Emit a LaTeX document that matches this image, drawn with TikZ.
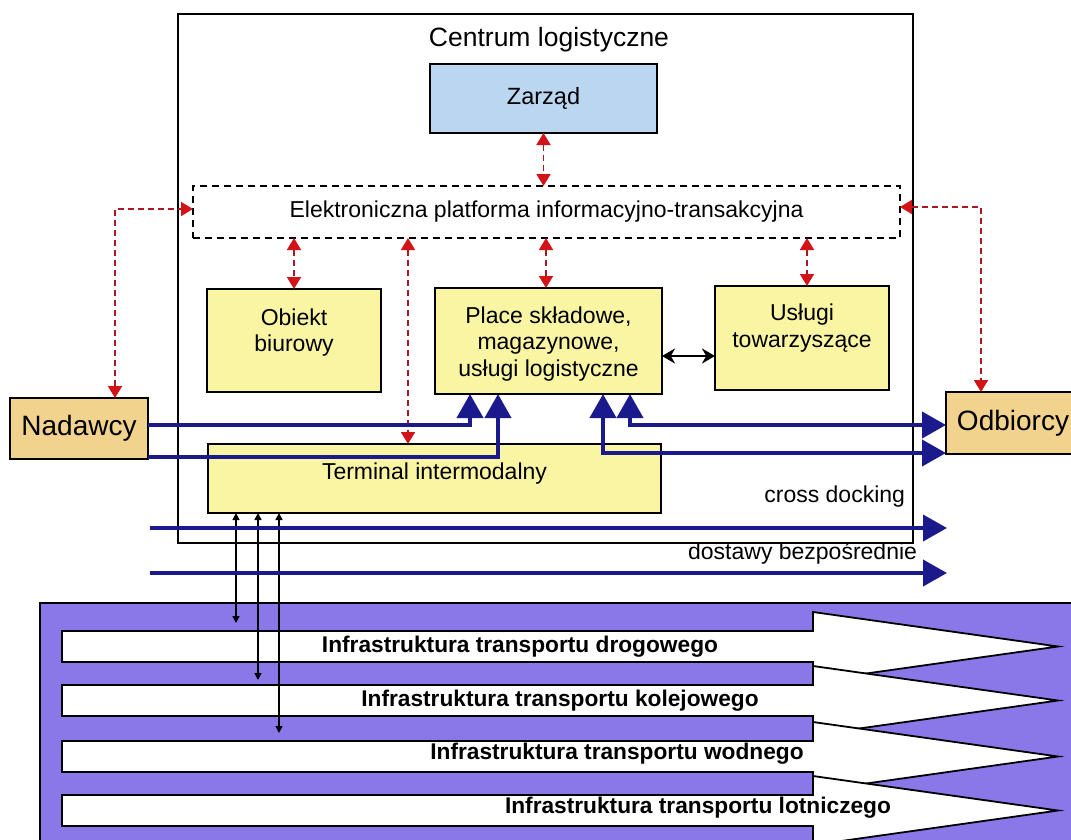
\documentclass[tikz,border=0pt]{standalone}
\usepackage{fontspec}
\setmainfont{Liberation Sans}
\usetikzlibrary{arrows.meta}

\definecolor{boxyellow}{RGB}{250,245,162}
\definecolor{boxblue}{RGB}{186,214,240}
\definecolor{boxtan}{RGB}{241,211,142}
\definecolor{panelpurple}{RGB}{138,120,232}
\definecolor{flownavy}{RGB}{26,26,140}
\definecolor{infored}{RGB}{170,25,35}
\definecolor{tipred}{RGB}{210,20,25}

\begin{document}
\begin{tikzpicture}[x=1pt,y=-1pt,
  basefont/.style={font=\fontsize{23}{26.5}\selectfont},
  every node/.style={basefont, inner sep=0pt, outer sep=0pt, align=center},
  unitbox/.style={draw=black, line width=1.4pt, fill=boxyellow},
  actorbox/.style={draw=black, line width=1.4pt, fill=boxtan, font=\fontsize{28}{30}\selectfont},
  frameline/.style={draw=black, line width=1.3pt},
  platformbox/.style={draw=black, line width=1.4pt, dash pattern=on 7pt off 5pt},
  redtip/.tip={Triangle[width=14pt,length=12pt,color=tipred]},
  infolink/.style={draw=infored, line width=1.9pt, dash pattern=on 6pt off 4pt, redtip-redtip},
  bluetip/.tip={Triangle[width=26pt,length=24pt]},
  flow/.style={draw=flownavy, line width=4pt, -bluetip},
  twoflow/.style={draw=flownavy, line width=4pt, bluetip-bluetip},
  blacktip/.tip={Stealth[width=15pt,length=13pt]},
  pairarrow/.style={draw=black, line width=2.2pt, blacktip-blacktip},
  droptip/.tip={Triangle[width=7pt,length=7pt]},
  droparrow/.style={draw=black, line width=1.5pt, droptip-droptip},
  blockarrow/.style={draw=black, line width=1.8pt, fill=white, line join=miter},
  infratext/.style={font=\fontsize{22.7}{26.5}\selectfont\bfseries},
  flowtext/.style={anchor=east}
]
\useasboundingbox (0,0) rectangle (1071,839);
\clip (0,0) rectangle (1071,839);
\fill[white] (0,0) rectangle (1071,839);

% transport infrastructure panel
\filldraw[fill=panelpurple, draw=black, line width=1.5pt] (40,603) rectangle (1100,860);
\foreach \t in {631,685,741,795}
  \draw[blockarrow] (62,\t) -- (813,\t) -- (813,\t-19) -- (1058,\t+15.5)
    -- (813,\t+50) -- (813,\t+31) -- (62,\t+31) -- cycle;
\node[infratext] (road)  at (520,647) {Infrastruktura transportu drogowego};
\node[infratext] (rail)  at (560,701) {Infrastruktura transportu kolejowego};
\node[infratext] (water) at (617,754) {Infrastruktura transportu wodnego};
\node[infratext] (air)   at (698,808) {Infrastruktura transportu lotniczego};

% logistics centre frame
\node[frameline, minimum width=735pt, minimum height=529pt] (centre) at (545.5,278.5) {};
\node[font=\fontsize{26.5}{28}\selectfont] (title) at (549,40) {Centrum logistyczne};

\node[draw=black, line width=1.4pt, fill=boxblue, minimum width=227pt, minimum height=69pt,
  font=\fontsize{23.5}{26}\selectfont] (zarzad) at (543.5,98.5) {\raisebox{3pt}{Zarząd}};
\node[platformbox, minimum width=707pt, minimum height=52pt] (platform) at (546.5,212)
  {Elektroniczna platforma informacyjno-transakcyjna};

\node[unitbox, minimum width=174pt, minimum height=103pt,
  label={[yshift=8pt]center:Obiekt\\biurowy}] (obiekt) at (294,340.5) {};
\node[unitbox, minimum width=227pt, minimum height=106pt,
  label={[yshift=-3pt]center:Place składowe,\\magazynowe,\\usługi logistyczne}] (place) at (548.5,341) {};
\node[unitbox, minimum width=174pt, minimum height=104pt,
  label={[yshift=10pt]center:Usługi\\towarzyszące}] (uslugi) at (802,338) {};
\node[unitbox, minimum width=453pt, minimum height=69pt,
  label={[yshift=5pt]center:Terminal intermodalny}] (terminal) at (434.5,478.5) {};

\node[actorbox, minimum width=138pt, minimum height=61pt] (nadawcy) at (79,428.5) {Nadawcy};
\node[actorbox, minimum width=134pt, minimum height=62pt] (odbiorcy) at (1013,423) {Odbiorcy};

% information links with the electronic platform
\draw[infolink] (zarzad.south) -- (zarzad.south |- platform.north);
\draw[infolink] (obiekt.north |- platform.south) -- (obiekt.north);
\draw[infolink] ([xshift=-2.5pt]place.north |- platform.south) -- ([xshift=-2.5pt]place.north);
\draw[infolink] ([xshift=5pt]uslugi.north |- platform.south) -- ([xshift=5pt]uslugi.north);
\draw[infolink] ([xshift=-26.5pt]terminal.north |- platform.south) -- ([xshift=-26.5pt]terminal.north);
\draw[infolink] ([xshift=36pt]nadawcy.north) |- ([yshift=3pt]platform.west);
\draw[infolink] ([yshift=5pt]platform.east) -| ([xshift=-32pt]odbiorcy.north);

% cooperation between storage and accompanying services
\draw[pairarrow] ([yshift=-15pt]place.east) -- ([yshift=-15pt]place.east -| uslugi.west);

% links from the terminal down to the transport modes
\coordinate (drop1) at (236,623);
\coordinate (drop2) at (258,680);
\coordinate (drop3) at (279,733);
\draw[droparrow] ([xshift=28pt]terminal.south west) -- (drop1);
\draw[droparrow] ([xshift=50pt]terminal.south west) -- (drop2);
\draw[droparrow] ([xshift=71pt]terminal.south west) -- (drop3);

% goods flows
\draw[flow] ([yshift=3.5pt]nadawcy.east) -| ([xshift=35pt]place.south west);
\draw[flow] ([yshift=-28.5pt]nadawcy.east) -| ([xshift=63pt]place.south west);
\draw[twoflow] ([xshift=168pt]place.south west) |- ([yshift=-30pt]odbiorcy.west);
\draw[twoflow] ([xshift=195pt]place.south west) |- ([yshift=-2pt]odbiorcy.west);

\coordinate (cdstart) at (150,528);
\coordinate (cdend) at (947,528);
\coordinate (dbstart) at (150,573);
\coordinate (dbend) at (947,573);
\draw[flow] (cdstart) -- (cdend);
\draw[flow] (dbstart) -- (dbend);
\node[flowtext] (crossdock) at (905,497) {cross docking};
\node[flowtext] (direct) at (917,553) {dostawy bezpośrednie};
\end{tikzpicture}
\end{document}
